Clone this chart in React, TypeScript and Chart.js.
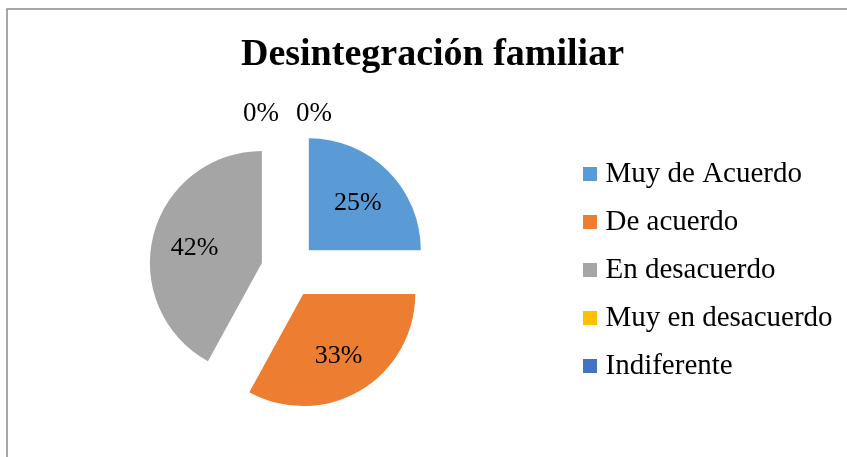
import React, { useEffect, useRef } from "react";
import { Chart, registerables } from "chart.js";

Chart.register(...registerables);

const TITLE = "Desintegración familiar";
const CATEGORIES = ["Muy de Acuerdo", "De acuerdo", "En desacuerdo", "Muy en desacuerdo", "Indiferente"];
const VALUES = [25, 33, 42, 0, 0];
const COLORS = ["#5B9BD5", "#ED7D31", "#A5A5A5", "#FFC000", "#4472C4"];

const W = 847;
const H = 457;
const FONT = "'Liberation Serif', 'Times New Roman', serif";
const LEGEND_SIZE = 29;
const LABEL_SIZE = 26;
const TITLE_SIZE = 38;
const EXPLODE = 28;
const RADIUS = 112;
const PIE_CX = 289;
const LEGEND_LEFT = 570;
const LEGEND_PAD = 19;
const BOX_W = 2;

function measure(text: string, font: string) {
  const c = document.createElement("canvas").getContext("2d")!;
  c.font = font;
  return c.measureText(text).width;
}

const framePlugin = {
  id: "frame",
  beforeDraw(chart: any) {
    const ctx = chart.ctx;
    ctx.save();
    ctx.fillStyle = "#ffffff";
    ctx.fillRect(0, 0, chart.width, chart.height);
    ctx.strokeStyle = "#8a8a8a";
    ctx.lineWidth = 1.5;
    ctx.strokeRect(7, 9, 2000, 2000);
    ctx.restore();
  },
};

const titlePlugin = {
  id: "customTitle",
  afterDraw(chart: any) {
    const ctx = chart.ctx;
    ctx.save();
    ctx.font = `bold ${TITLE_SIZE}px ${FONT}`;
    ctx.fillStyle = "#000";
    ctx.textAlign = "center";
    ctx.textBaseline = "alphabetic";
    ctx.fillText(TITLE, 432.5, 65);
    ctx.restore();
  },
};

const explodePlugin = {
  id: "explode",
  beforeDatasetDraw(chart: any, args: any) {
    const ctx = chart.ctx;
    args.meta.data.forEach((arc: any) => {
      const mid = (arc.startAngle + arc.endAngle) / 2;
      ctx.save();
      ctx.translate(Math.cos(mid) * EXPLODE, Math.sin(mid) * EXPLODE);
      arc.draw(ctx, chart.chartArea);
      ctx.restore();
    });
    return false;
  },
};

const labelPlugin = {
  id: "pieLabels",
  afterDatasetsDraw(chart: any) {
    const ctx = chart.ctx;
    const meta = chart.getDatasetMeta(0);
    const data = chart.data.datasets[0].data as number[];
    const total = data.reduce((a, b) => a + b, 0);
    const zeros: number[] = [];
    data.forEach((v, i) => { if (v === 0) zeros.push(i); });
    ctx.save();
    ctx.fillStyle = "#000";
    ctx.textAlign = "center";
    ctx.textBaseline = "middle";
    meta.data.forEach((arc: any, i: number) => {
      const v = data[i];
      const mid = (arc.startAngle + arc.endAngle) / 2;
      const txt = Math.round((v / total) * 100) + "%";
      let x: number, y: number;
      if (v > 0) {
        ctx.font = `${LABEL_SIZE}px ${FONT}`;
        const d = EXPLODE + arc.outerRadius * 0.62;
        x = arc.x + Math.cos(mid) * d;
        y = arc.y + Math.sin(mid) * d + 2;
      } else {
        ctx.font = `${LABEL_SIZE + 1}px ${FONT}`;
        const j = zeros.indexOf(i);
        const d = EXPLODE + arc.outerRadius + 16;
        x = arc.x - 1.5 + Math.cos(mid) * d + (j - (zeros.length - 1) / 2) * 53;
        y = arc.y + Math.sin(mid) * d;
      }
      ctx.fillText(txt, x, y);
    });
    ctx.restore();
  },
};

export default function App() {
  const ref = useRef<HTMLCanvasElement | null>(null);

  useEffect(() => {
    if (!ref.current) return;
    const legendFont = `${LEGEND_SIZE}px ${FONT}`;
    const maxText = Math.max(...CATEGORIES.map((c) => measure(c, legendFont)));
    const legendW = LEGEND_PAD + BOX_W + LEGEND_SIZE / 2 + maxText + 10;
    const padRight = Math.max(0, W - LEGEND_LEFT - legendW);

    const chart = new Chart(ref.current, {
      type: "pie",
      data: {
        labels: CATEGORIES,
        datasets: [
          {
            data: VALUES,
            backgroundColor: COLORS,
            borderWidth: 0,
            radius: RADIUS,
          } as any,
        ],
      },
      options: {
        responsive: false,
        animation: false,
        events: [],
        devicePixelRatio: 1,
        layout: { padding: { left: 2 * PIE_CX - LEGEND_LEFT, right: padRight, top: 83, bottom: 0 } },
        plugins: {
          title: { display: false },
          tooltip: { enabled: false },
          legend: {
            display: true,
            position: "right",
            fullSize: false,
            align: "center",
            labels: {
              usePointStyle: true,
              pointStyle: "rect",
              boxWidth: BOX_W,
              boxHeight: 14,
              padding: LEGEND_PAD,
              color: "#000",
              font: { family: FONT, size: LEGEND_SIZE },
            },
          },
        },
      } as any,
      plugins: [framePlugin, explodePlugin, labelPlugin, titlePlugin],
    });
    return () => chart.destroy();
  }, []);

  return (
    <div style={{ position: "fixed", left: 0, top: 0, width: W, height: H, background: "#fff" }}>
      <canvas ref={ref} width={W} height={H} style={{ display: "block", width: W, height: H }} />
    </div>
  );
}
